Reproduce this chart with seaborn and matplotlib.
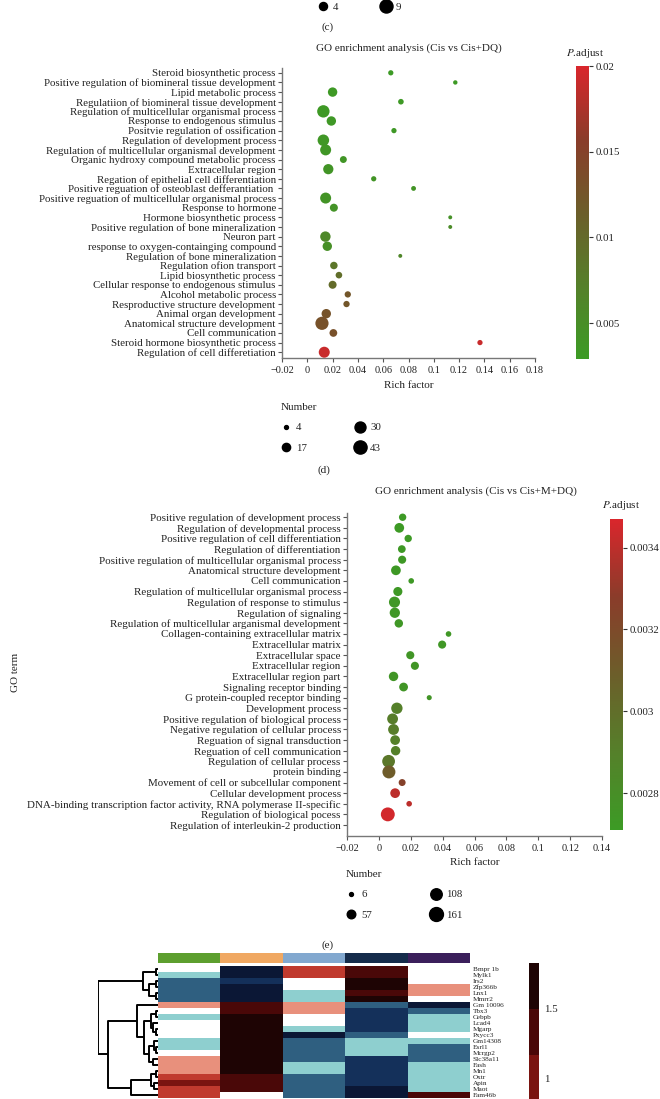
import numpy as np
import pandas as pd
import matplotlib
matplotlib.use('Agg')
import matplotlib.pyplot as plt
import seaborn as sns
from matplotlib.colors import LinearSegmentedColormap, ListedColormap, Normalize
from matplotlib.lines import Line2D
from matplotlib.ticker import FuncFormatter, MultipleLocator

W, H = 660, 1099

# ---------------- panel (c) legend remnant
c_numbers = [4, 9]

# ---------------- panel (d): GO enrichment (Cis vs Cis+DQ)
d_terms = [
    'Steroid biosynthetic process',
    'Positive regulation of biomineral tissue development',
    'Lipid metabolic process',
    'Regulatiion of biomineral tissue development',
    'Regulation of multicellular organismal process',
    'Response to endogenous stimulus',
    'Positvie regulation of ossification',
    'Regulation of development process',
    'Regulation of multicellular organismal development',
    'Organic hydroxy compound metabolic process',
    'Extracellular region',
    'Regation of epithelial cell differentiation',
    'Positive reguation of osteoblast defferantiation ',
    'Positive reguation of multicellular organismal process',
    'Response to hormone',
    'Hormone biosynthetic process',
    'Positive regulation of bone mineralization',
    'Neuron part',
    'response to oxygen-containging compound',
    'Regulation of bone mineralization',
    'Regulation ofion transport',
    'Lipid biosynthetic process',
    'Cellular response to endogenous stimulus',
    'Alcohol metabolic process',
    'Resproductive structure development',
    'Animal organ development',
    'Anatomical structure development',
    'Cell communication',
    'Steroid hormone biosynthetic process',
    'Regulation of cell differetiation',
]
d_rich = [0.066, 0.117, 0.020, 0.074, 0.0127, 0.019, 0.0685, 0.0127, 0.0145, 0.0285,
          0.0166, 0.0525, 0.084, 0.0145, 0.021, 0.113, 0.113, 0.0143, 0.0158, 0.0735,
          0.021, 0.025, 0.020, 0.032, 0.031, 0.015, 0.0116, 0.0206, 0.1365, 0.0134]
d_number = [7, 5, 22, 8, 38, 22, 7, 33, 30, 12,
            26, 7, 6, 30, 16, 4, 4, 27, 22, 4,
            14, 11, 16, 10, 10, 22, 43, 15, 7, 30]
d_padj = [0.0031, 0.0031, 0.0032, 0.0033, 0.0033, 0.0034, 0.0035, 0.0036, 0.0037, 0.0038,
          0.0040, 0.0040, 0.0041, 0.0042, 0.0043, 0.0045, 0.0055, 0.0060, 0.0048, 0.0062,
          0.0085, 0.0095, 0.0098, 0.0125, 0.0125, 0.0128, 0.0130, 0.0132, 0.0190, 0.0190]
d_legend = [4, 17, 30, 43]
d_cbar_ticks = [0.005, 0.01, 0.015, 0.02]

# ---------------- panel (e): GO enrichment (Cis vs Cis+M+DQ)
e_terms = [
    'Positive regulation of development process',
    'Regulation of developmental process',
    'Positive regulation of cell differentiation',
    'Regulation of differentiation',
    'Positive regulation of multicellular organismal process',
    'Anatomical structure development',
    'Cell communication',
    'Regulation of multicellular organismal process',
    'Regulation of response to stimulus',
    'Regulation of signaling',
    'Regulation of multicellular arganismal development',
    'Collagen-containing extracellular matrix',
    'Extracellular matrix',
    'Extracellular space',
    'Extracellular region',
    'Extracellular region part',
    'Signaling receptor binding',
    'G protein-coupled receptor binding',
    'Development process',
    'Positive regulation of biological process',
    'Negative regulation of cellular process',
    'Reguation of signal transduction',
    'Reguation of cell communication',
    'Regulation of cellular process',
    'protein binding',
    'Movement of cell or subcellular component',
    'Cellular development process',
    'DNA-binding transcription factor activity, RNA polymerase II-specific',
    'Regulation of biological pocess',
    'Regulation of interleukin-2 production',
]
# the last term shows no visible dot in the figure
e_rich = [0.0149, 0.0128, 0.0184, 0.0144, 0.0146, 0.0107, 0.0203, 0.0119, 0.0098, 0.0100,
          0.0125, 0.0437, 0.0397, 0.0197, 0.0226, 0.0092, 0.0155, 0.0316, 0.0113, 0.0086,
          0.0092, 0.0102, 0.0105, 0.0061, 0.0063, 0.0146, 0.0102, 0.0190, 0.0056, np.nan]
e_number = [40, 75, 40, 45, 50, 75, 20, 65, 100, 85,
            55, 20, 50, 50, 50, 70, 60, 15, 105, 95,
            95, 75, 70, 135, 140, 35, 75, 20, 161, 150]
e_padj = [0.00272, 0.00272, 0.00272, 0.00273, 0.00273, 0.00273, 0.00273, 0.00273, 0.00274, 0.00274,
          0.00274, 0.00274, 0.00274, 0.00275, 0.00275, 0.00275, 0.00275, 0.00276, 0.00290, 0.00292,
          0.00292, 0.00290, 0.00290, 0.00295, 0.00310, 0.00325, 0.00340, 0.00340, 0.00345, 0.00345]
e_legend = [6, 57, 108, 161]
e_cbar_ticks = [0.0028, 0.003, 0.0032, 0.0034]

# ---------------- panel (f): heatmap (top part only)
hm_genes = ['Bmpr 1b', 'Mylk1', 'Irs2', 'Zfp366b', 'Lnx1', 'Mmrr2', 'Gm 10096', 'Tbx3',
            'Cebpb', 'Lcad4', 'Mgarp', 'Pxycc3', 'Gm14308', 'Esrl1', 'Mcrgp2', 'Slc38a11',
            'Fash', 'Mn1', 'Oxtr', 'Apin', 'Maot', 'Fam46b']
hm_col1 = [0, -0.3, -1.0, -1.0, -1.0, -1.0, 0.4, 0, -0.3, 0, 0, 0, -0.3, -0.3, 0, 0.4, 0.4, 0.4, 0.7, 1.0, 0.7, 0.7]
hm_col2 = [-1.7, -1.7, -1.4, -1.7, -1.7, -1.7, 1.4, 1.4, 1.7, 1.7, 1.7, 1.7, 1.7, 1.7, 1.7, 1.7, 1.7, 1.7, 1.4, 1.4, 1.4, 0]
hm_col3 = [0.7, 0.7, 0, 0, -0.3, -0.3, 0.4, 0.4, 0, 0, -0.3, -1.7, -1.0, -1.0, -1.0, -1.0, -0.3, -0.3, -1.0, -1.0, -1.0, -1.0]
hm_col4 = [1.4, 1.4, 1.7, 1.7, 1.4, 1.7, -1.0, -1.4, -1.4, -1.4, -1.4, -1.0, -0.3, -0.3, -0.3, -1.4, -1.4, -1.4, -1.4, -1.4, -1.7, -1.7]
hm_col5 = [0, 0, 0, 0.4, 0.4, 0, -1.7, -1.0, -0.3, -0.3, -0.3, 0, -0.3, -1.0, -1.0, -1.0, -0.3, -0.3, -0.3, -0.3, -0.3, 1.4]
group_colors = ['#5d9f2f', '#f0a862', '#82a8cf', '#152c4b', '#3b1f5b']
hm_cbar_ticks = [1, 1.5]
# dendrogram as nested [height, left, right]; ints are row indices
dendro_tree = [2.4,
               [0.6, [0.1, 0, 1], [0.35, [0.1, 2, 3], [0.1, 4, 5]]],
               [2.0,
                [0.85, 6, [0.55,
                           [0.3, [0.1, 7, 8], [0.2, 9, [0.1, 10, 11]]],
                           [0.35, [0.15, 12, [0.1, 13, 14]], [0.2, 15, 16]]]],
                [1.1, [0.3, [0.1, 17, 18], [0.15, 19, 20]], 21]]]

# ---------------- style
sns.set_theme(style='white')
plt.rcParams['font.family'] = ['Liberation Serif', 'DejaVu Serif']
plt.rcParams['mathtext.fontset'] = 'stix'
TXT = '#222222'

go_cmap = LinearSegmentedColormap.from_list(
    'padj', ['#3c9b25', '#55802a', '#6c5e2a', '#8a3c2a', '#d9262c'])
hm_cmap = ListedColormap(['#0b1735', '#14305a', '#2f5f80', '#5f97ab', '#8ecfcf', '#ffffff',
                          '#e8907c', '#c03a2e', '#7a1410', '#4a0808', '#1e0404'])

fig = plt.figure(figsize=(W / 100, H / 100), dpi=100)


def px_axes(x0, y0, x1, y1):
    return fig.add_axes([x0 / W, 1 - y1 / H, (x1 - x0) / W, (y1 - y0) / H])


def px_text(x, y, s, **kw):
    kw.setdefault('color', TXT)
    return fig.text(x / W, 1 - y / H, s, **kw)


def num_fmt(v, pos=None):
    if abs(v) < 1e-9:
        return '0'
    return f'{round(v, 6):g}'.replace('-', '\u2212')


def size_fn(n, nrange, srange):
    return srange[0] + (n - nrange[0]) / (nrange[1] - nrange[0]) * (srange[1] - srange[0])


def go_panel(terms, rich, number, padj, box, xlim, ylim, pnorm, nrange, srange, lab_size):
    ax = px_axes(*box)
    df = pd.DataFrame({'term': terms, 'rich': rich, 'number': number, 'padj': padj})
    sns.scatterplot(data=df, x='rich', y='term', hue='padj', hue_norm=pnorm, palette=go_cmap,
                    size='number', size_norm=nrange, sizes=srange, linewidth=0,
                    legend=False, ax=ax, zorder=3)
    ax.set_yticks(range(len(terms)))
    ax.set_yticklabels(terms)
    ax.set_xlim(*xlim)
    ax.set_ylim(*ylim)
    ax.xaxis.set_major_locator(MultipleLocator(0.02))
    ax.xaxis.set_major_formatter(FuncFormatter(num_fmt))
    sns.despine(ax=ax)
    for sp in ['left', 'bottom']:
        ax.spines[sp].set_color('#777777')
        ax.spines[sp].set_linewidth(1.0)
    ax.tick_params(axis='both', direction='out', length=3, width=0.8, color='#555555',
                   labelcolor=TXT, bottom=True, left=True)
    ax.tick_params(axis='y', labelsize=lab_size, pad=1.5)
    ax.tick_params(axis='x', labelsize=7.4, pad=3)
    ax.set_ylabel('')
    ax.set_xlabel('Rich factor', fontsize=8, color=TXT, labelpad=4)
    return ax


def p_colorbar(box, pnorm, ticks):
    cax = px_axes(*box)
    sm = plt.cm.ScalarMappable(norm=pnorm, cmap=go_cmap)
    cb = fig.colorbar(sm, cax=cax, ticks=ticks, format=FuncFormatter(num_fmt))
    cb.outline.set_visible(False)
    cb.ax.tick_params(length=3, width=0.8, color='#333333', labelsize=7.8, pad=2, labelcolor=TXT)
    return cb


def number_legend(values, nrange, srange, anchor, colsp, title='Number'):
    handles = [Line2D([], [], linestyle='', marker='o', color='black',
                      markersize=np.sqrt(size_fn(v, nrange, srange))) for v in values]
    leg = fig.legend(handles, [str(v) for v in values], ncol=2, title=title,
                     loc='upper left', bbox_to_anchor=anchor, frameon=False,
                     fontsize=7.8, title_fontsize=8, handlelength=1.0, handletextpad=0.4,
                     columnspacing=colsp, labelspacing=1.0, borderpad=0, borderaxespad=0,
                     alignment='left')
    for t in leg.get_texts():
        t.set_color(TXT)
    return leg


# ---------------- (c) remnant
c_handles = [Line2D([], [], linestyle='', marker='o', color='black', markersize=m)
             for m in np.interp(c_numbers, [4, 9], [5.8, 9.4])]
fig.legend(c_handles, [str(v) for v in c_numbers], ncol=2, loc='center left',
           bbox_to_anchor=(318 / W, 1 - 7 / H), frameon=False, fontsize=7.8,
           handlelength=1.0, handletextpad=0.4, columnspacing=3.9, borderpad=0, borderaxespad=0)
px_text(328, 27, '(c)', ha='center', va='center', fontsize=8)

# ---------------- (d)
d_nrange, d_srange = (4, 43), (8, 90)
d_pnorm = Normalize(0.0029, 0.02)
px_text(409, 48, 'GO enrichment analysis (Cis vs Cis+DQ)', ha='center', va='center', fontsize=8)
px_text(566, 54, r'$\mathit{P}$.adjust', ha='left', va='center', fontsize=8)
go_panel(d_terms, d_rich, d_number, d_padj, (282, 68, 535, 358), (-0.02, 0.18), (29.6, -0.5),
         d_pnorm, d_nrange, d_srange, 7.8)
p_colorbar((576, 66, 589, 359), d_pnorm, d_cbar_ticks)
number_legend(d_legend, d_nrange, d_srange, (281 / W, 1 - 403 / H), 4.4)
px_text(324, 470, '(d)', ha='center', va='center', fontsize=8)

# ---------------- (e)
e_nrange, e_srange = (6, 161), (8, 100)
e_pnorm = Normalize(0.00271, 0.00347)
px_text(476, 491, 'GO enrichment analysis (Cis vs Cis+M+DQ)', ha='center', va='center', fontsize=8)
px_text(602, 505, r'$\mathit{P}$.adjust', ha='left', va='center', fontsize=8)
go_panel(e_terms, e_rich, e_number, e_padj, (347, 513, 602, 835.6), (-0.02, 0.14), (30.0, -0.4),
         e_pnorm, e_nrange, e_srange, 7.95)
p_colorbar((610, 519, 623, 830), e_pnorm, e_cbar_ticks)
px_text(15, 672, 'GO term', ha='center', va='center', rotation=90, fontsize=8)
number_legend(e_legend, e_nrange, e_srange, (346 / W, 1 - 870 / H), 5.4)
px_text(328, 945, '(e)', ha='center', va='center', fontsize=8)

# ---------------- (f) heatmap
n_rows = len(hm_genes)
row_h = 6.0
hm_top = 966
hm_bot = hm_top + n_rows * row_h
hm_df = pd.DataFrame({'c1': hm_col1, 'c2': hm_col2, 'c3': hm_col3, 'c4': hm_col4, 'c5': hm_col5},
                     index=hm_genes)
vlim = 11 / 6
ax_grp = px_axes(158, 953, 470, 963)
sns.heatmap(pd.DataFrame([list(range(len(group_colors)))]), ax=ax_grp,
            cmap=ListedColormap(group_colors), cbar=False, xticklabels=False, yticklabels=False)

ax_hm = px_axes(158, hm_top, 470, hm_bot)
cax_hm = px_axes(529, 963, 539, 963 + 2 * vlim * 138)
sns.heatmap(hm_df, ax=ax_hm, cmap=hm_cmap, vmin=-vlim, vmax=vlim, cbar_ax=cax_hm,
            xticklabels=False, yticklabels=True,
            cbar_kws={'ticks': hm_cbar_ticks, 'format': FuncFormatter(num_fmt)})
ax_hm.yaxis.tick_right()
ax_hm.tick_params(axis='y', length=0, pad=2, labelsize=5.2, labelrotation=0, labelcolor=TXT)
cax_hm.tick_params(length=0, labelsize=7.8, pad=4, labelcolor=TXT)
ax_hm.collections[0].colorbar.outline.set_visible(False)

# dendrogram
ax_dd = px_axes(98, hm_top, 158, hm_bot)


def draw_node(node):
    if isinstance(node, int):
        return node + 0.5, 0.0
    h, left, right = node
    yl, hl = draw_node(left)
    yr, hr = draw_node(right)
    ax_dd.plot([hl, h, h, hr], [yl, yl, yr, yr], color='black', lw=1.4, solid_capstyle='butt')
    return (yl + yr) / 2, h


draw_node(dendro_tree)
ax_dd.set_xlim(dendro_tree[0] + 0.02, 0)
ax_dd.set_ylim(n_rows, 0)
ax_dd.axis('off')

fig.savefig('out.png', dpi=100)
